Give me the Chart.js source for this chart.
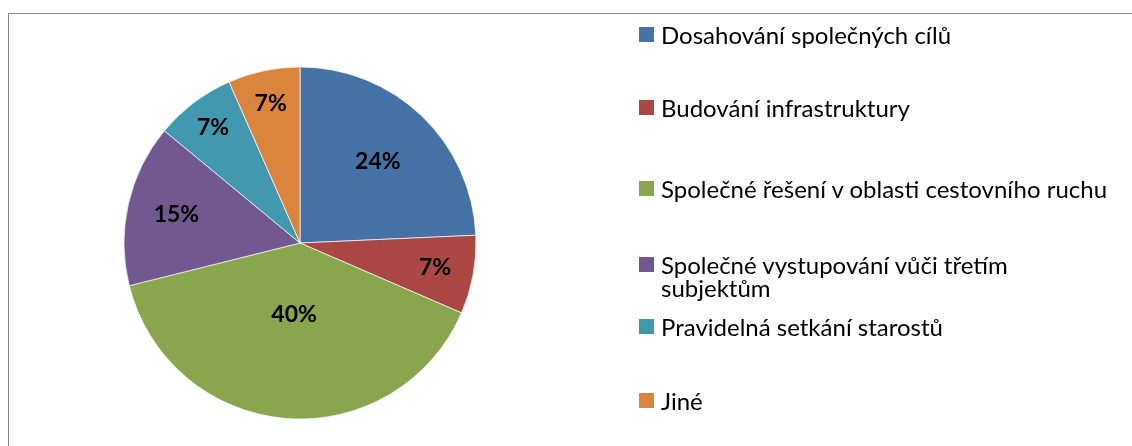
<!DOCTYPE html>
<html>
<head>
<meta charset="utf-8">
<script src="https://cdn.jsdelivr.net/npm/chart.js@4"></script>
<style>
  html, body { margin: 0; padding: 0; background: #fff; }
  #wrap { position: relative; width: 1132px; height: 446px; overflow: hidden; }
  #frame { position: absolute; left: 8px; top: 13px; width: 1140px; height: 450px;
           border-left: 1px solid #8a8a8a; border-top: 1px solid #8a8a8a; }
  #pie { position: absolute; left: 0; top: 0; }
  #legend { position: absolute; left: 639px; top: 0; font-family: Lato, "Open Sans", sans-serif;
            font-size: 24px; color: #000; }
  .item { position: absolute; left: 0; display: flex; align-items: flex-start; line-height: 23px; }
  .item .sw { width: 15px; height: 15px; margin-top: 4px; margin-right: 7px; flex: none; }
  .item .tx { width: 456px; }
</style>
</head>
<body>
<div id="wrap">
  <div id="frame"></div>
  <canvas id="pie" width="1132" height="446"></canvas>
  <div id="legend"></div>
</div>
<script>
// ── DATA ─────────────────────────────────────────────
const categories = [
  "Dosahování společných cílů",
  "Budování infrastruktury",
  "Společné řešení v oblasti cestovního ruchu",
  "Společné vystupování vůči třetím subjektům",
  "Pravidelná setkání starostů",
  "Jiné",
];
const shares = [24.3, 7.2, 39.6, 14.9, 7.4, 6.6]; // v procentech (odhad z uhlu vyseci)

// ── STYLE ────────────────────────────────────────────
const colors = ["#4572A7", "#AA4643", "#89A54E", "#71588F", "#4198AF", "#DB843D"];
const labelRadius = [0.64, 0.78, 0.41, 0.72, 0.82, 0.81]; // kde sedi popisek (podil polomeru)
const legendCenters = [34, 107, 188, 264, 326, 400];       // stred prvniho radku polozky

// popisky procent uvnitr vysece
const pctLabels = {
  id: "pctLabels",
  afterDatasetsDraw(chart) {
    const ctx = chart.ctx;
    const meta = chart.getDatasetMeta(0);
    const data = chart.data.datasets[0].data;
    const total = data.reduce((a, b) => a + b, 0);
    ctx.save();
    ctx.font = "bold 23px Lato, 'Open Sans', sans-serif";
    ctx.fillStyle = "#000";
    ctx.textAlign = "center";
    ctx.textBaseline = "middle";
    meta.data.forEach((arc, i) => {
      const p = arc.getProps(["x", "y", "startAngle", "endAngle", "outerRadius"], true);
      const mid = (p.startAngle + p.endAngle) / 2;
      const r = p.outerRadius * labelRadius[i];
      const txt = Math.round(data[i] / total * 100) + "%";
      ctx.fillText(txt, p.x + Math.cos(mid) * r, p.y + Math.sin(mid) * r);
    });
    ctx.restore();
  },
};

new Chart(document.getElementById("pie").getContext("2d"), {
  type: "pie",
  data: {
    labels: categories,
    datasets: [{
      data: shares,
      backgroundColor: colors,
      borderColor: "rgba(255,255,255,0.7)",
      borderWidth: 1,
    }],
  },
  options: {
    responsive: false,
    animation: false,
    radius: 176,
    layout: { padding: { left: 124, right: 656, top: 67, bottom: 27 } },
    plugins: { legend: { display: false }, tooltip: { enabled: false } },
  },
  plugins: [pctLabels],
});

// ── LEGEND (HTML, kvuli zalomeni radku) ──────────────
const legendEl = document.getElementById("legend");
categories.forEach((name, i) => {
  const it = document.createElement("div");
  it.className = "item";
  it.style.top = (legendCenters[i] - 11.5) + "px";
  it.innerHTML = `<div class="sw" style="background:${colors[i]}"></div><div class="tx">${name}</div>`;
  legendEl.appendChild(it);
});
</script>
</body>
</html>
